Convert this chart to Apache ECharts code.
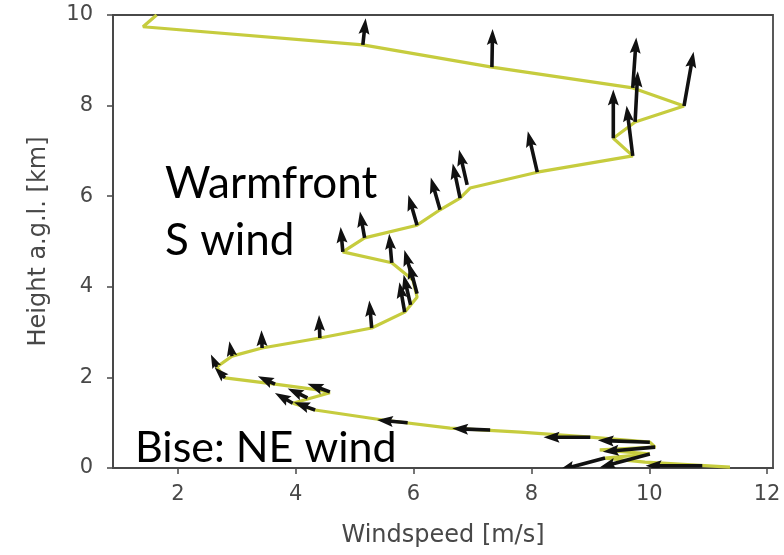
<!DOCTYPE html>
<html>
<head>
<meta charset="utf-8">
<script src="https://cdn.jsdelivr.net/npm/echarts@6/dist/echarts.min.js"></script>
<style>
  html, body { margin: 0; padding: 0; background: #ffffff; }
  #chart { width: 784px; height: 555px; }
</style>
</head>
<body>
<div id="chart"></div>
<script>
// Wind profile: speed [m/s] against height above ground level [km]
const profileSpeed = [
  1.64, 1.41, 5.14, 7.33, 9.72, 10.59, 9.76, 9.39, 9.72, 8.10,
  6.96, 6.79, 6.45, 6.06, 5.17, 4.80, 5.63, 5.99, 6.06, 5.85,
  5.29, 4.41, 3.43, 2.92, 2.66, 2.80, 3.65, 4.41, 4.58, 3.95,
  4.33, 5.48, 6.62, 7.81, 9.00, 10.01, 10.10, 9.16, 10.01, 9.25,
  9.93, 11.37
];
const profileHeight = [
  10.00, 9.74, 9.34, 8.85, 8.39, 7.99, 7.64, 7.28, 6.89, 6.53,
  6.18, 5.96, 5.70, 5.36, 5.08, 4.77, 4.53, 4.15, 3.77, 3.44,
  3.09, 2.87, 2.65, 2.47, 2.23, 1.99, 1.85, 1.72, 1.66, 1.43,
  1.28, 1.06, 0.88, 0.79, 0.68, 0.57, 0.46, 0.40, 0.31, 0.22,
  0.13, 0.02
];

// Wind arrows: speed [m/s], height [km], direction the air moves toward
// (degrees, counter-clockwise from east)
const arrowSpeed = [
  5.14, 7.33, 9.72, 10.59, 9.76, 9.39, 9.72, 8.10, 6.91, 6.79,
  6.45, 6.06, 5.17, 4.80, 5.63, 5.99, 6.06, 5.95, 5.85, 5.29,
  4.41, 3.43, 2.92, 2.66, 2.80, 3.65, 4.58, 4.20, 3.95, 4.33,
  5.90, 7.30, 9.00, 10.01, 10.10, 10.01, 9.25, 10.90
];
const arrowHeight = [
  9.34, 8.85, 8.39, 7.99, 7.64, 7.28, 6.89, 6.53, 6.25, 5.96,
  5.70, 5.36, 5.08, 4.77, 4.53, 4.15, 3.85, 3.60, 3.44, 3.09,
  2.87, 2.65, 2.47, 2.23, 1.99, 1.85, 1.68, 1.55, 1.43, 1.28,
  1.00, 0.84, 0.68, 0.57, 0.46, 0.31, 0.22, 0.05
];
const arrowDir = [
  84, 89, 86, 80, 87, 90, 97, 103, 103, 102,
  106, 106, 100, 95, 95, 106, 105, 103, 100, 95,
  92, 92, 100, 115, 135, 155, 160, 155, 150, 160,
  175, 178, 180, 178, 185, 195, 195, 180
];

const xTicks = [2, 4, 6, 8, 10, 12];

// Arrow geometry (pixels)
const ARROW_PX_PER_MS = 5.2;
const HEAD_LEN = 16;
const HEAD_W = 11;
const SHAFT_W = 3.6;

function renderArrow(params, api) {
  const s = api.value(0);
  const h = api.value(1);
  const dir = api.value(2) * Math.PI / 180;
  const p0 = api.coord([s, h]);
  const L = s * ARROW_PX_PER_MS;
  const k = Math.min(1, L / HEAD_LEN);
  const hl = HEAD_LEN * k;
  const ha = HEAD_LEN * 0.88 * k;
  const hw = HEAD_W * k / 2;
  const sw = SHAFT_W * k / 2;
  const dx = Math.cos(dir), dy = -Math.sin(dir);
  const nx = -dy, ny = dx;
  const pt = (t, w) => [p0[0] + dx * t + nx * w, p0[1] + dy * t + ny * w];
  return {
    type: 'polygon',
    shape: {
      points: [pt(0, sw), pt(L - ha, sw), pt(L - hl, hw), pt(L, 0),
               pt(L - hl, -hw), pt(L - ha, -sw), pt(0, -sw)]
    },
    style: { fill: '#111111' }
  };
}

const axisGrey = '#484848';
const chart = echarts.init(document.getElementById('chart'), null, { renderer: 'canvas' });

chart.setOption({
  animation: false,
  backgroundColor: '#ffffff',
  grid: {
    left: 113, right: 11, top: 15, bottom: 87,
    show: true, borderColor: axisGrey, borderWidth: 1.8,
    backgroundColor: 'transparent'
  },
  xAxis: {
    type: 'value',
    min: 0.9, max: 12.1,
    name: 'Windspeed [m/s]',
    nameLocation: 'middle',
    nameGap: 56,
    nameTextStyle: { fontFamily: 'DejaVu Sans', fontSize: 24, color: axisGrey },
    axisLine: { show: true, lineStyle: { color: axisGrey, width: 1.8 } },
    axisTick: { show: true, inside: false, length: 6, customValues: xTicks,
                lineStyle: { color: axisGrey, width: 1.5 } },
    axisLabel: { customValues: xTicks, margin: 16, fontFamily: 'DejaVu Sans',
                 fontSize: 21, color: axisGrey },
    splitLine: { show: false }
  },
  yAxis: {
    type: 'value',
    min: 0, max: 10, interval: 2,
    name: 'Height a.g.l. [km]',
    nameLocation: 'middle',
    nameRotate: 90,
    nameGap: 62,
    nameTextStyle: { fontFamily: 'DejaVu Sans', fontSize: 24, color: axisGrey },
    axisLine: { show: true, lineStyle: { color: axisGrey, width: 1.8 } },
    axisTick: { show: true, inside: false, length: 6,
                lineStyle: { color: axisGrey, width: 1.5 } },
    axisLabel: { margin: 20, fontFamily: 'DejaVu Sans', fontSize: 21, color: axisGrey },
    splitLine: { show: false }
  },
  series: [
    {
      type: 'line',
      data: profileSpeed.map((s, i) => [s, profileHeight[i]]),
      showSymbol: false,
      clip: true,
      lineStyle: { color: '#c6cc3e', width: 3.2 },
      z: 2
    },
    {
      type: 'custom',
      data: arrowSpeed.map((s, i) => [s, arrowHeight[i], arrowDir[i]]),
      encode: { x: 0, y: 1 },
      renderItem: renderArrow,
      clip: true,
      z: 3
    }
  ],
  graphic: [
    { type: 'text', x: 165, y: 184, z: 10,
      style: { text: 'Warmfront', fontFamily: 'Lato', fontSize: 44, fill: '#000',
               verticalAlign: 'middle', align: 'left' } },
    { type: 'text', x: 165, y: 241, z: 10,
      style: { text: 'S wind', fontFamily: 'Lato', fontSize: 44, fill: '#000',
               verticalAlign: 'middle', align: 'left' } },
    { type: 'text', x: 135, y: 448, z: 10,
      style: { text: 'Bise: NE wind', fontFamily: 'Lato', fontSize: 43, fill: '#000',
               verticalAlign: 'middle', align: 'left' } }
  ]
});
</script>
</body>
</html>
